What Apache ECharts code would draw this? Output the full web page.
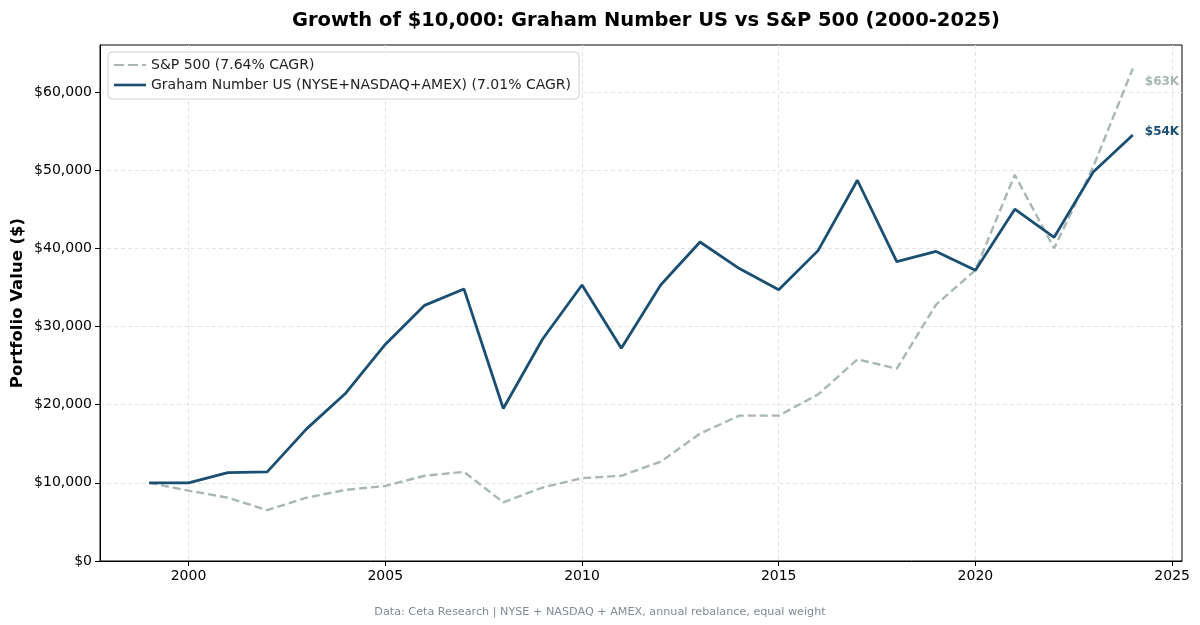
<!DOCTYPE html>
<html>
<head>
<meta charset="utf-8">
<script src="https://cdn.jsdelivr.net/npm/echarts@6/dist/echarts.min.js"></script>
<style>html,body{margin:0;padding:0;background:#fff;}#c{width:1200px;height:625px;}</style>
</head>
<body>
<div id="c"></div>
<script>
var years = [1999,2000,2001,2002,2003,2004,2005,2006,2007,2008,2009,2010,2011,2012,2013,2014,2015,2016,2017,2018,2019,2020,2021,2022,2023,2024];
var sp500 = [10000,9000,8100,6500,8100,9100,9600,10900,11400,7500,9400,10600,10900,12700,16300,18600,18600,21300,25800,24600,32800,37200,49400,40000,50500,63000];
var graham = [10000,10000,11300,11400,16900,21500,27700,32700,34800,19500,28400,35300,27200,35300,40800,37400,34700,39700,48700,38300,39600,37200,45000,41400,49800,54500];
var xTicks = [2000,2005,2010,2015,2020,2025];
var yTicks = [0,10000,20000,30000,40000,50000,60000];
var spName = 'S&P 500 (7.64% CAGR)';
var grName = 'Graham Number US (NYSE+NASDAQ+AMEX) (7.01% CAGR)';
var spColor = '#a9b6b6';
var grColor = '#1a4f72';
var font = 'DejaVu Sans';

function pairs(xs, ys){ return xs.map(function(x,i){return [x, ys[i]];}); }

var chart = echarts.init(document.getElementById('c'), null, {renderer:'canvas'});
chart.setOption({
  animation: false,
  backgroundColor: '#fff',
  textStyle: {fontFamily: font},
  title: [{
    text: 'Growth of $10,000: Graham Number US vs S&P 500 (2000-2025)',
    left: 287, top: 6,
    textStyle: {fontFamily: font, fontSize: 19.5, fontWeight: 'bold', color: '#000'}
  },{
    text: 'Data: Ceta Research | NYSE + NASDAQ + AMEX, annual rebalance, equal weight',
    left: 'center', top: 602,
    textStyle: {fontFamily: font, fontSize: 11.2, fontWeight: 'normal', color: '#808b96'}
  }],
  grid: {left: 100, right: 18, top: 45, bottom: 64, show: true, borderColor: '#000', borderWidth: 1, containLabel: false},
  legend: {
    orient: 'vertical', left: 108, top: 52,
    backgroundColor: 'rgba(255,255,255,0.85)', borderColor: '#d0d0d0', borderWidth: 1, borderRadius: 4,
    padding: [6, 8, 7, 6], itemGap: 6, itemWidth: 32, itemHeight: 10,
    textStyle: {fontFamily: font, fontSize: 14, color: '#222'},
    data: [
      {name: spName, icon: 'path://M0,0 L10,0 L10,2 L0,2 Z M14,0 L24,0 L24,2 L14,2 Z M28,0 L32,0 L32,2 L28,2 Z', itemStyle: {color: spColor}},
      {name: grName, icon: 'path://M0,0 L32,0 L32,2.6 L0,2.6 Z', itemStyle: {color: grColor}}
    ]
  },
  xAxis: {
    type: 'value', min: 1997.75, max: 2025.25,
    axisLine: {show: true, lineStyle: {color: '#000'}},
    axisTick: {show: true, length: 5, customValues: xTicks, lineStyle: {color: '#000'}},
    axisLabel: {customValues: xTicks, color: '#000', fontSize: 14, fontFamily: font, margin: 8, formatter: function(v){return String(v);}},
    splitLine: {show: true, lineStyle: {color: '#e3e3e3', type: [4,3], width: 1}}
  },
  yAxis: {
    type: 'value', min: 0, max: 66000,
    name: 'Portfolio Value ($)', nameLocation: 'middle', nameGap: 74, nameMoveOverlap: false,
    nameTextStyle: {fontFamily: font, fontSize: 16.5, fontWeight: 'bold', color: '#000'},
    axisLine: {show: true, lineStyle: {color: '#000'}},
    axisTick: {show: true, length: 5, customValues: yTicks, lineStyle: {color: '#000'}},
    axisLabel: {customValues: yTicks, color: '#000', fontSize: 14, fontFamily: font, margin: 8,
      formatter: function(v){return '$' + Math.round(v).toLocaleString('en-US');}},
    splitLine: {show: true, lineStyle: {color: '#e3e3e3', type: [4,3], width: 1}}
  },
  series: [{
    name: spName, type: 'line', data: pairs(years, sp500), showSymbol: false, symbol: 'none',
    lineStyle: {color: spColor, width: 2.4, type: [8,4]}, itemStyle: {color: spColor},
    endLabel: {show: true, formatter: '$63K', color: spColor, fontWeight: 'bold', fontSize: 12, fontFamily: font, offset: [4, 13]},
    z: 2
  },{
    name: grName, type: 'line', data: pairs(years, graham), showSymbol: false, symbol: 'none',
    lineStyle: {color: grColor, width: 2.8}, itemStyle: {color: grColor},
    endLabel: {show: true, formatter: '$54K', color: grColor, fontWeight: 'bold', fontSize: 12, fontFamily: font, offset: [4, -3]},
    z: 3
  }]
});
</script>
</body>
</html>
